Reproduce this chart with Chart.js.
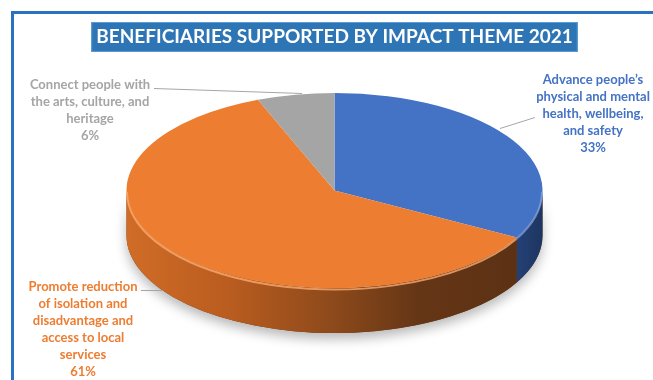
<!DOCTYPE html>
<html><head><meta charset="utf-8">
<script src="https://cdn.jsdelivr.net/npm/chart.js@4"></script>
<style>
html,body{margin:0;padding:0;background:#fff;}
#wrap{position:relative;width:653px;height:380px;overflow:hidden;background:#fff;}
#frame{position:absolute;left:11px;top:11px;width:700px;height:420px;border-left:3px solid #2a72c0;border-top:3px solid #2a72c0;box-sizing:border-box;}
canvas{position:absolute;left:0;top:0;}
</style></head><body>
<div id="wrap"><div id="frame"></div><canvas id="c" width="653" height="380"></canvas></div>
<script>
// ---- data ----
const titleText = "BENEFICIARIES SUPPORTED BY IMPACT THEME 2021";
const categories = [
  "Advance people’s physical and mental health, wellbeing, and safety",
  "Promote reduction of isolation and disadvantage and access to local services",
  "Connect people with the arts, culture, and heritage"
];
const labelLines = [
  ["Advance people’s", "physical and mental", "health, wellbeing,", "and safety"],
  ["Promote reduction", "of isolation and", "disadvantage and", "access to local", "services"],
  ["Connect people with", "the arts, culture, and", "heritage"]
];
const values = [33, 61, 6];
const sliceColors = ["#4472c4", "#ed7d31", "#a5a5a5"];

// ---- layout / style ----
const K = 0.469;        // vertical squash of the pie top
const DEPTH = 45;       // pie thickness in px
const FONT_FAMILY = 'Lato, "Open Sans", "DejaVu Sans", sans-serif';
const labelLayout = [
  {cx: 593, y0: 80, leader: [[535, 117], [500, 128]]},
  {cx: 83,  y0: 287, leader: [[141, 290], [163, 290]]},
  {cx: 90,  y0: 85, leader: [[154, 88], [302, 93]]}
];
const orangeSide = [[0, "#d06c27"], [0.25, "#b95c1f"], [0.5, "#8c491b"], [0.7, "#653616"], [1, "#5a3013"]];
const blueSide = [[0.86, "#2c4f92"], [1, "#1d3560"]];

function sidePath(ctx, cx, cy, rx, ry, a, b) {
  ctx.beginPath();
  ctx.ellipse(cx, cy, rx, ry, 0, a, b, false);
  ctx.ellipse(cx, cy + DEPTH, rx, ry, 0, b, a, true);
  ctx.closePath();
}

const pie3d = {
  id: 'pie3d',
  beforeDatasetsDraw(chart) {
    const arcs = chart.getDatasetMeta(0).data;
    const ctx = chart.ctx;
    const c = arcs[0].getProps(['x', 'y', 'outerRadius'], true);
    const cx = c.x, cy = c.y, r = c.outerRadius, ry = r * K;
    ctx.save();
    ctx.shadowColor = 'rgba(0,0,0,0.28)';
    ctx.shadowBlur = 12;
    ctx.shadowOffsetY = 6;
    sidePath(ctx, cx, cy, r, ry, 0, Math.PI);
    ctx.fillStyle = '#6a3816';
    ctx.fill();
    ctx.restore();
    arcs.forEach((arc, i) => {
      const p = arc.getProps(['startAngle', 'endAngle'], true);
      [0, 2 * Math.PI, -2 * Math.PI].forEach(off => {
        const a = Math.max(p.startAngle + off, 0);
        const b = Math.min(p.endAngle + off, Math.PI);
        if (b <= a) return;
        ctx.save();
        sidePath(ctx, cx, cy, r, ry, a, b);
        const g = ctx.createLinearGradient(cx - r, 0, cx + r, 0);
        (i === 0 ? blueSide : i === 1 ? orangeSide : [[0, '#7f7f7f'], [1, '#595959']])
          .forEach(s => g.addColorStop(s[0], s[1]));
        ctx.fillStyle = g;
        ctx.fill();
        ctx.restore();
      });
    });
    ctx.save();
    ctx.translate(cx, cy);
    ctx.scale(1, K);
    ctx.translate(-cx, -cy);
  },
  afterDatasetsDraw(chart) {
    const ctx = chart.ctx;
    ctx.restore();
    const arcs = chart.getDatasetMeta(0).data;
    const c = arcs[0].getProps(['x', 'y', 'outerRadius'], true);
    const cx = c.x, cy = c.y, r = c.outerRadius, ry = r * K;
    const rims = ['rgba(140,170,230,0.7)', 'rgba(250,170,110,0.8)', 'rgba(200,200,200,0.8)'];
    arcs.forEach((arc, i) => {
      const p = arc.getProps(['startAngle', 'endAngle'], true);
      [0, 2 * Math.PI, -2 * Math.PI].forEach(off => {
        const a = Math.max(p.startAngle + off, 0);
        const b = Math.min(p.endAngle + off, Math.PI);
        if (b <= a) return;
        ctx.save();
        ctx.beginPath();
        ctx.ellipse(cx, cy + 1.5, r - 0.5, ry, 0, a, b, false);
        ctx.strokeStyle = rims[i];
        ctx.lineWidth = 2;
        ctx.stroke();
        ctx.restore();
      });
    });
  }
};

const titleBox = {
  id: 'titleBox',
  beforeDraw(chart) {
    const tb = chart.titleBlock;
    if (!tb) return;
    const ctx = chart.ctx;
    const f = chart.options.plugins.title.font;
    ctx.save();
    ctx.font = `${f.weight} ${f.size}px ${f.family}`;
    const w = ctx.measureText(titleText).width;
    const mid = tb.left + tb.width / 2;
    ctx.fillStyle = '#2e75b6';
    ctx.fillRect(mid - w / 2 - 5, tb.top, w + 10, tb.height);
    ctx.strokeStyle = '#5b9bd5';
    ctx.lineWidth = 1;
    ctx.strokeRect(mid - w / 2 - 5 + 0.5, tb.top + 0.5, w + 9, tb.height - 1);
    ctx.restore();
  }
};

const pieLabels = {
  id: 'pieLabels',
  afterDraw(chart) {
    const ctx = chart.ctx;
    const total = values.reduce((s, v) => s + v, 0);
    ctx.save();
    ctx.font = `bold 13px ${FONT_FAMILY}`;
    ctx.textAlign = 'center';
    ctx.textBaseline = 'middle';
    labelLines.forEach((lines, i) => {
      const L = labelLayout[i];
      ctx.strokeStyle = '#a6a6a6';
      ctx.lineWidth = 1;
      ctx.beginPath();
      ctx.moveTo(L.leader[0][0], L.leader[0][1] + 0.5);
      for (let k = 1; k < L.leader.length; k++) ctx.lineTo(L.leader[k][0], L.leader[k][1] + 0.5);
      ctx.stroke();
      ctx.fillStyle = sliceColors[i];
      const all = lines.concat([Math.round(values[i] / total * 100) + '%']);
      all.forEach((t, k) => ctx.fillText(t, L.cx, L.y0 + k * 17));
    });
    ctx.restore();
  }
};

new Chart(document.getElementById('c'), {
  type: 'pie',
  data: {
    labels: categories,
    datasets: [{
      data: values,
      backgroundColor: sliceColors,
      borderWidth: 0,
      radius: 208,
      clip: false
    }]
  },
  options: {
    responsive: false,
    animation: false,
    events: [],
    layout: {padding: {left: 16, right: 0, top: 22, bottom: 51}},
    plugins: {
      legend: {display: false},
      tooltip: {enabled: false},
      title: {
        display: true,
        text: titleText,
        color: '#ffffff',
        font: {family: FONT_FAMILY, size: 19, weight: 'bold', lineHeight: 1.1},
        padding: {top: 4, bottom: 5}
      }
    }
  },
  plugins: [titleBox, pie3d, pieLabels]
});
</script>
</body></html>
